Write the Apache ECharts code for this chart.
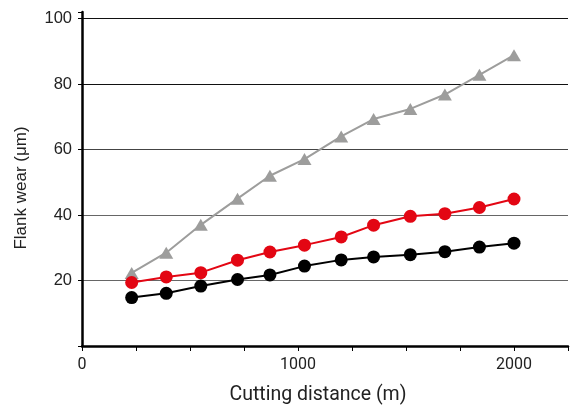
<!DOCTYPE html>
<html><head><meta charset="utf-8">
<script src="https://cdn.jsdelivr.net/npm/echarts@6/dist/echarts.min.js"></script>
<style>html,body{margin:0;padding:0;background:#fff}#c{width:572px;height:410px}</style>
</head><body><div id="c"></div>
<script>
var distances = [230, 390, 550, 720, 870, 1030, 1200, 1350, 1520, 1680, 1840, 2000];
var wearGray  = [22.3, 28.5, 37, 45, 52, 57.1, 64, 69.3, 72.4, 76.8, 82.8, 88.8];
var wearRed   = [19.4, 21.1, 22.4, 26.2, 28.7, 30.8, 33.3, 36.9, 39.6, 40.4, 42.3, 44.9];
var wearBlack = [14.8, 16.1, 18.3, 20.3, 21.7, 24.4, 26.3, 27.2, 27.9, 28.8, 30.2, 31.4];
var xLabels = [0, 1000, 2000];
var yLabels = [20, 40, 60, 80, 100];

function pairs(xs, ys){ return xs.map(function(x,i){return [x, ys[i]];}); }
var xFont = 'Roboto';
var yFont = "'Liberation Sans Narrow', 'Liberation Sans', Arial";
var chart = echarts.init(document.getElementById('c'), null, {renderer:'canvas'});
chart.setOption({
  animation:false,
  grid:{left:82, right:4, top:12, bottom:62},
  xAxis:{
    type:'value', min:0, max:2250, interval:250,
    name:'Cutting distance (m)', nameLocation:'middle', nameGap:39,
    nameTextStyle:{fontFamily:xFont, fontSize:19.5, color:'#222', padding:[0,14,0,0]},
    axisLine:{show:true, onZero:false, lineStyle:{color:'#000', width:2.5}},
    axisTick:{show:true, length:5, inside:false, lineStyle:{color:'#000', width:1}},
    axisLabel:{margin:11, fontFamily:xFont, fontSize:16, color:'#222',
      showMinLabel:true, showMaxLabel:true,
      formatter:function(v){ return xLabels.indexOf(v) >= 0 ? String(v) : ''; }},
    splitLine:{show:false}
  },
  yAxis:{
    type:'value', min:0, max:102, interval:20,
    name:'Flank wear (\u03bcm)', nameLocation:'middle', nameGap:52,
    nameTextStyle:{fontFamily:"'Liberation Sans', Arial", fontSize:17, color:'#222', padding:[0,18,0,0]},
    axisLine:{show:true, lineStyle:{color:'#000', width:2.5}},
    axisTick:{show:true, length:4, lineStyle:{color:'#000', width:1}},
    axisLabel:{margin:10, fontFamily:yFont, fontSize:16.5, color:'#222',
      formatter:function(v){ return yLabels.indexOf(v) >= 0 ? String(v) : ''; }},
    splitLine:{show:true, lineStyle:{width:1.2,
      color:['#000','#666','#666','#444','#111','#111','rgba(0,0,0,0)']}}
  },
  series:[
    {type:'line', data:pairs(distances, wearGray), symbol:'triangle', symbolSize:[14,12],
     itemStyle:{color:'#9d9d9c'}, lineStyle:{color:'#9d9d9c', width:2}, z:3},
    {type:'line', data:pairs(distances, wearRed), symbol:'circle', symbolSize:13,
     itemStyle:{color:'#e30613'}, lineStyle:{color:'#e30613', width:2}, z:4},
    {type:'line', data:pairs(distances, wearBlack), symbol:'circle', symbolSize:13,
     itemStyle:{color:'#000'}, lineStyle:{color:'#000', width:2}, z:5}
  ]
});
</script></body></html>
